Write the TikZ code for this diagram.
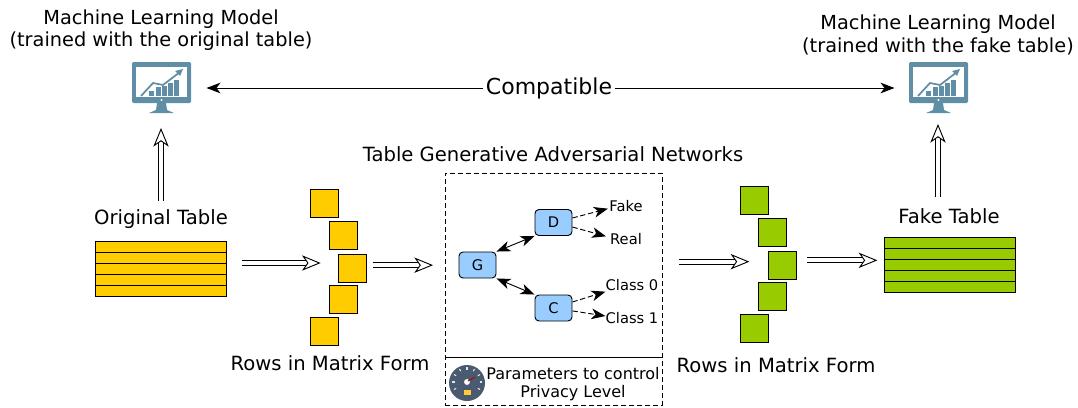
\documentclass[tikz,border=0pt]{standalone}
\usepackage{fontspec}
\setmainfont{DejaVu Sans}
\usetikzlibrary{arrows.meta}
\definecolor{monblue}{HTML}{5F8EA6}
\definecolor{gaugeblue}{HTML}{4A5A70}
\definecolor{rowyellow}{HTML}{FFCC00}
\definecolor{rowgreen}{HTML}{99CC00}
\definecolor{netblue}{HTML}{99CCFF}
\tikzset{
    lbl/.style={font=\fontsize{14.7}{17}\selectfont, align=center, inner sep=0pt},
    smalllbl/.style={font=\fontsize{11}{13.5}\selectfont, align=center, inner sep=0pt},
    rowbox/.style={draw, line width=0.75pt, minimum width=98.25pt, minimum height=8.25pt, inner sep=0pt, outer sep=0pt},
    cellbox/.style={draw, line width=0.75pt, minimum size=21pt, inner sep=0pt, outer sep=0pt},
    netbox/.style={draw, rounded corners=3pt, fill=netblue, line width=0.7pt, minimum width=27.75pt, minimum height=19.5pt, inner sep=0pt, font=\fontsize{11}{13}\selectfont},
    iconbox/.style={minimum width=44.25pt, minimum height=38pt, inner sep=0pt, outer sep=0pt},
    bigarrow/.style={double, double distance=3pt, line width=0.7pt, -{Stealth[length=14pt,width=11.5pt,inset=4pt,fill=white,line width=0.7pt]}},
    thinarrow/.style={line width=0.7pt, -{Stealth[length=10.5pt,width=8pt,inset=3pt]}},
    bothmeans/.style={line width=0.7pt, {Stealth[length=10.5pt,width=8pt,inset=3pt]}-{Stealth[length=10.5pt,width=8pt,inset=3pt]}},
    dasharrow/.style={thinarrow, dash pattern=on 4pt off 2pt},
    monitor/.pic={
        \fill[monblue, rounded corners=1pt] (-29,-26) rectangle (30,15);
        \fill[white] (-25,-21) rectangle (26,9);
        \fill[white] (0.5,12) circle (0.8pt);
        \fill[monblue] (-4,15) -- (5,15) -- (6,22) -- (13,25) -- (-12,25) -- (-5,22) -- cycle;
        \foreach \xa/\ya in {-12/3, -5/-1, 1/-2, 7/-5, 13/-8}
            \fill[monblue] (\xa,8) rectangle (\xa+5,\ya);
        \draw[monblue, line width=1.3pt] (-20,8) -- (-8,-5) -- (2,-3) -- (19,-16);
        \fill[monblue] (22,-19) -- (14,-17) -- (19,-12) -- cycle;
    }
}
\begin{document}
\begin{tikzpicture}[x=0.75pt, y=-0.75pt]
    \useasboundingbox (0,0) rectangle (1078,407);

    % models on top
    \node[iconbox] (modelL) at (161,88) {};
    \node[iconbox] (modelR) at (938,88) {};
    \pic at (161,88) {monitor};
    \pic at (938,88) {monitor};
    \node[lbl, font=\fontsize{14.5}{17}\selectfont] (titleL) at (161,30) {Machine Learning Model\\(trained with the original table)};
    \node[lbl, font=\fontsize{14.5}{17}\selectfont] (titleR) at (938,35) {Machine Learning Model\\(trained with the fake table)};
    \node[lbl, font=\fontsize{16.5}{20}\selectfont] (compat) at (549,88) {Compatible};
    \draw[thinarrow, shorten >=12pt, shorten <=2pt] (compat) -- (modelL);
    \draw[thinarrow, shorten >=10.5pt, shorten <=2pt] (compat) -- (modelR);

    % original table
    \node[lbl] (origL) at (161,219) {Original Table};
    \foreach \i in {1,...,5}
        \node[rowbox, fill=rowyellow] (rowL\i) at (160.5,235.5+11*\i) {};
    \foreach \i/\xa/\ya in {1/324.5/203.5, 2/343/235.5, 3/352/268.5, 4/343/299.5, 5/324.5/331.5}
        \node[cellbox, fill=rowyellow] (cellL\i) at (\xa,\ya) {};
    \node[lbl] (formL) at (330,363) {Rows in Matrix Form};

    % fake table
    \node[lbl] (origR) at (949,216) {Fake Table};
    \foreach \i in {1,...,5}
        \node[rowbox, fill=rowgreen] (rowR\i) at (949.5,232.5+10.8*\i) {};
    \foreach \i/\xa/\ya in {1/754/200.5, 2/772.5/232.5, 3/782/265, 4/772.5/296.5, 5/754/328.5}
        \node[cellbox, fill=rowgreen] (cellR\i) at (\xa,\ya) {};
    \node[lbl] (formR) at (776,365) {Rows in Matrix Form};

    % the network box
    \node[lbl] (netname) at (553,154) {Table Generative Adversarial Networks};
    \node[draw, dash pattern=on 4pt off 2pt, line width=0.7pt, minimum width=162.75pt, minimum height=174pt, inner sep=0pt, outer sep=0pt] (netbox) at (553.5,289) {};
    \node[minimum width=162.75pt, minimum height=36pt, inner sep=0pt, outer sep=0pt] (parambox) at (553.5,381) {};
    \draw[line width=0.7pt] (parambox.north west) -- (parambox.north east);
    \node[netbox] (G) at (477.5,265) {G};
    \node[netbox] (D) at (553.5,222.5) {D};
    \node[netbox] (C) at (553.5,308) {C};
    \draw[bothmeans] (G.north east) -- (D.south west);
    \draw[bothmeans] (G.south east) -- (C.north west);
    \node[smalllbl] (fake) at (626,206) {Fake};
    \node[smalllbl] (real) at (626,239) {Real};
    \node[smalllbl] (class0) at (632,285) {Class 0};
    \node[smalllbl] (class1) at (632,318) {Class 1};
    \draw[dasharrow] ([yshift=3.4pt]D.east) -- ([xshift=-1pt,yshift=-2pt]fake.west);
    \draw[dasharrow] ([yshift=-3.4pt]D.east) -- ([xshift=-3pt,yshift=2pt]real.west);
    \draw[dasharrow] ([yshift=4.5pt]C.east) -- ([yshift=-5pt]class0.west);
    \draw[dasharrow] ([yshift=-2.2pt]C.east) -- ([yshift=1.5pt]class1.west);
    \node[smalllbl, font=\fontsize{12}{13.5}\selectfont] (param) at (573,384) {Parameters to control\\Privacy Level};

    % gauge
    \fill[gaugeblue] (467,383) circle (13.5pt);
    \foreach \a in {-210,-180,-150,-120,-90,-60,-30,0,30}
        \draw[white!85!gaugeblue, line width=0.8pt] (467,382) ++(\a:12.5) -- ++(\a:2.5);
    \fill[white] (467,382) circle (2.2pt);
    \draw[red!70!black, line width=0.7pt] (468,381) -- (475,377);
    \fill[orange!50!yellow!80!white] (464,390) rectangle (471,395);

    % big arrows
    \draw[bigarrow, shorten <=6pt, shorten >=11pt] (origL.north -| modelL.south) -- (modelL.south);
    \draw[bigarrow, shorten <=8pt, shorten >=8pt] (origR.north -| modelR.south) -- (modelR.south);
    \draw[bigarrow, shorten <=12pt, shorten >=13pt] (rowL3.north east) -- (rowL3.north east -| cellL3.west);
    \draw[bigarrow, shorten <=5pt, shorten >=9pt] ([yshift=2.5pt]cellL3.east) -- ([yshift=2.5pt]cellL3.east -| netbox.west);
    \draw[bigarrow, shorten <=13pt, shorten >=14pt] ([yshift=2.5pt]netbox.east |- cellR3.west) -- ([yshift=2.5pt]cellR3.west);
    \draw[bigarrow, shorten <=8pt, shorten >=5pt] ([yshift=3.5pt]cellR3.east) -- ([yshift=3.5pt]cellR3.east -| rowR3.west);
\end{tikzpicture}
\end{document}
